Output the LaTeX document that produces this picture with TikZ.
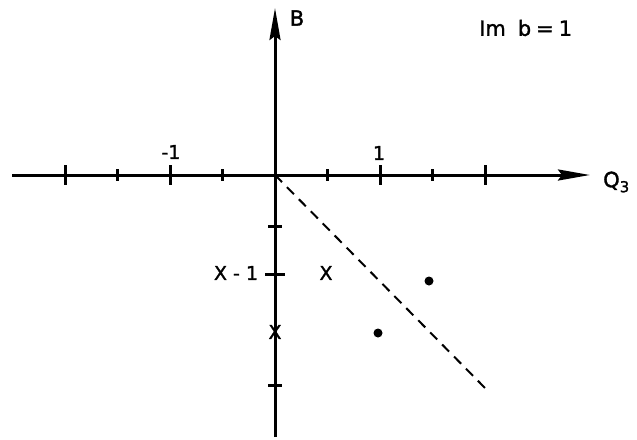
\documentclass[tikz,border=0pt]{standalone}
\usepackage{fontspec}
\setmainfont{DejaVu Sans}[FakeBold=1.5]
\usetikzlibrary{arrows.meta}
\begin{document}
\begin{tikzpicture}[x=1pt,y=-1pt,
  axis/.style={line width=3pt,-{Stealth[length=32pt,width=11pt,inset=4pt]}},
  tickmark/.style={line width=3pt},
  lbl/.style={inner sep=0pt,font=\fontsize{19}{19}\selectfont},
  biglbl/.style={inner sep=0pt,font=\fontsize{21}{21}\selectfont},
  dotmark/.style={circle,fill=black,inner sep=0pt,minimum size=9pt},
  dashline/.style={line width=2pt,dash pattern=on 10pt off 7pt}]
\useasboundingbox (0,0) rectangle (637,439);
\coordinate (O) at (275,175);
\coordinate (xl) at (12,175);
\coordinate (xr) at (590,175);
\coordinate (yt) at (275,8);
\coordinate (yb) at (275,437);
\coordinate (dend) at (486,389);
\draw[axis] (xl) -- (xr);
\draw[axis] (yb) -- (yt);
% horizontal ticks
\foreach \k in {-4,-2,2,4} \draw[tickmark] (275+\k*52.5,165) -- (275+\k*52.5,185);
\foreach \k in {-3,-1,1,3} \draw[tickmark] (275+\k*52.5,169) -- (275+\k*52.5,181);
% vertical ticks
\draw[tickmark] (268,226) -- (282,226);
\draw[tickmark] (265,274) -- (285,274);
\draw[tickmark] (268,385) -- (282,385);
% dashed line
\draw[dashline] (O) -- (dend);
% labels
\node[lbl] (m1) at (171,152) {-1};
\node[lbl] (p1) at (379,153) {1};
\node[biglbl] (B) at (297,18) {B};
\node[biglbl,anchor=west] (Q) at (603,182) {Q\raisebox{-5pt}{\fontsize{15}{15}\selectfont 3}};
\node[biglbl,anchor=west] (im) at (479,28) {Im\hspace{12pt}b\hspace{5pt}=\hspace{5pt}1};
\node[lbl] (xm1) at (236,273) {X - 1};
\node[lbl] (x1) at (326,273) {X};
\node[lbl] (x2) at (275,332) {X};
\node[dotmark] (d1) at (429,281) {};
\node[dotmark] (d2) at (378,333) {};
\end{tikzpicture}
\end{document}
